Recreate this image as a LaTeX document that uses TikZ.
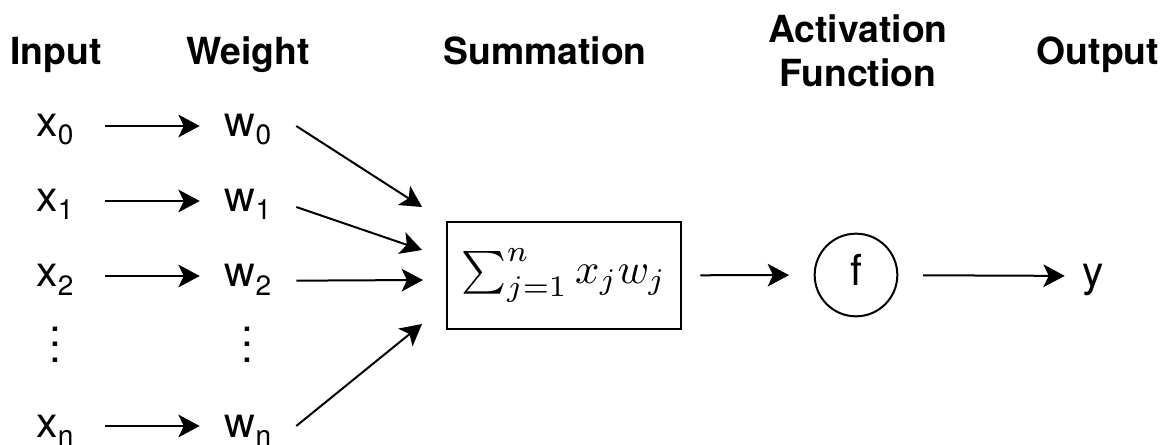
\documentclass[tikz,border=0pt]{standalone}
\usepackage{amsmath}
\usepackage{graphicx}
\usepackage{fontspec}
\setmainfont{TeX Gyre Heros}
\usetikzlibrary{arrows.meta}

% variable with a lowered subscript
\newcommand\vsub[2]{#1\raisebox{-6pt}{\fontsize{21}{21}\selectfont #2}}
% three stacked dots as one box
\newcommand\stackdots{\ooalign{.\cr\raisebox{11.6pt}{.}\cr\raisebox{23.2pt}{.}\cr}}

\begin{document}
\begin{tikzpicture}[
  x=0.75pt, y=-0.75pt,
  title/.style={font=\bfseries\fontsize{28}{33}\selectfont, align=center, anchor=base, inner sep=0pt},
  var/.style={font=\fontsize{32}{38}\selectfont, text height=20pt, text depth=3.5pt, inner sep=0pt},
  vdots/.style={font=\fontsize{32}{38}\selectfont, inner sep=0pt},
  conn/.style={-{Stealth[length=16pt,width=17pt,inset=4pt]}, line width=1.5pt},
]
\useasboundingbox (0,0) rectangle (1171,445);

% column headings
\node[title] (hin)  at (56,65)   {Input};
\node[title] (hw)   at (248,65)  {Weight};
\node[title] (hsum) at (545,65)  {Summation};
\node[title] (hact) at (858,87)  {Activation\\Function};
\node[title] (hout) at (1098,65) {Output};

% inputs
\node[var, minimum width=75pt] (x0) at (55,126) {\vsub{x}{0}};
\node[var, minimum width=75pt] (x1) at (55,201) {\vsub{x}{1}};
\node[var, minimum width=75pt] (x2) at (55,276) {\vsub{x}{2}};
\node[vdots] (xd) at (55,360) {\stackdots};
\node[var, minimum width=75pt] (xn) at (55,426) {\vsub{x}{n}};

% weights
\node[var, minimum width=72pt] (w0) at (248,126) {\vsub{w}{0}};
\node[var, minimum width=72pt] (w1) at (248,201) {\vsub{w}{1}};
\node[var, minimum width=72pt] (w2) at (248,276) {\vsub{w}{2}};
\node[vdots] (wd) at (247,360) {\stackdots};
\node[var, minimum width=72pt] (wn) at (248,426) {\vsub{w}{n}};

% summation block
\node[draw, line width=1.5pt, minimum width=176pt, minimum height=80pt, inner sep=0pt]
  (sum) at (564,275.5) {\scalebox{3.2}{$\textstyle\sum_{j=1}^{n} x_j w_j$}};

% activation and output
\node[var, draw, circle, line width=1.5pt, minimum size=62pt] (f) at (856,275) {f};
\node[var, minimum width=42pt] (y) at (1093,276) {y};

% arrow tips into the summation block
\coordinate (t0) at (422,207);
\coordinate (t1) at (422,250);
\coordinate (t2) at (423,280);
\coordinate (tn) at (422,324);

% input -> weight
\draw[conn] (x0) -- (w0);
\draw[conn] (x1) -- (w1);
\draw[conn] (x2) -- (w2);
\draw[conn] (xn) -- (wn);

% weight -> summation
\draw[conn] (w0.east) -- (t0);
\draw[conn] ([yshift=-4.5pt]w1.east) -- (t1);
\draw[conn] ([yshift=-3.5pt]w2.east) -- (t2);
\draw[conn] (wn.east) -- (tn);

% summation -> activation -> output
\draw[conn, shorten <=13.5pt, shorten >=18.5pt] (sum) -- (f);
\draw[conn, shorten <=18.5pt] (f) -- (y);
\end{tikzpicture}
\end{document}
